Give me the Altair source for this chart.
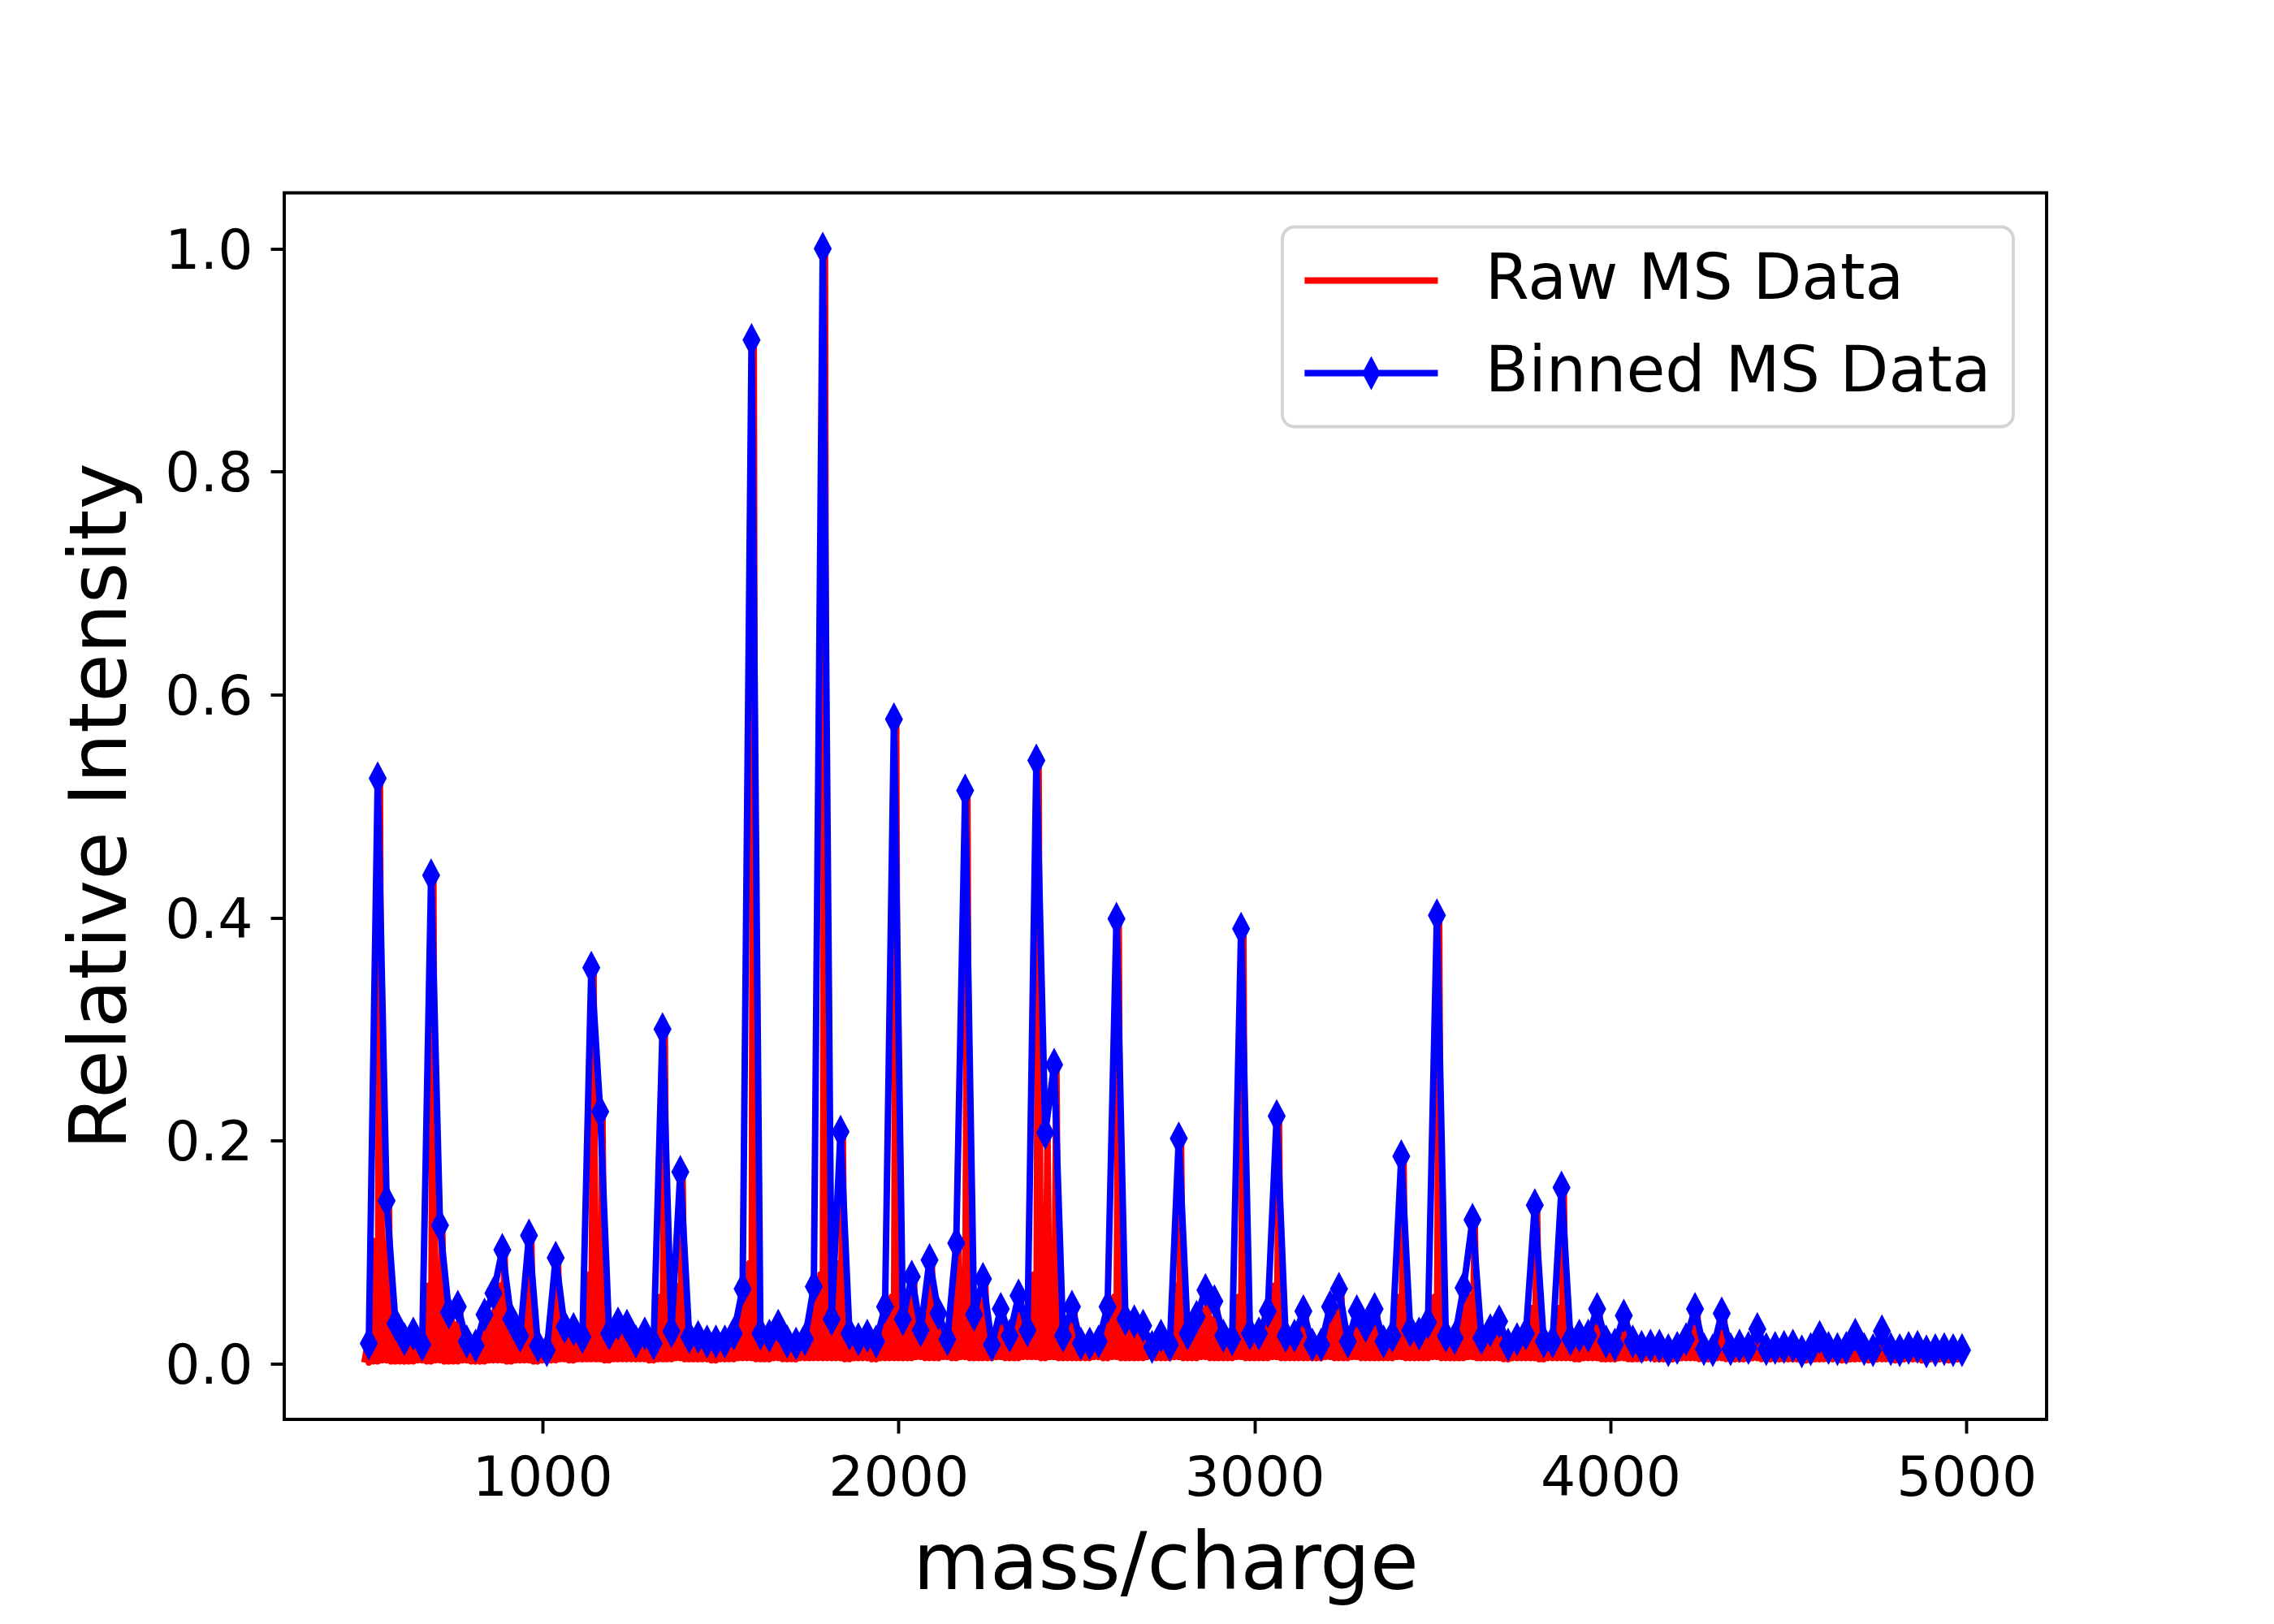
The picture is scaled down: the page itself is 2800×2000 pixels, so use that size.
import altair as alt
import pandas as pd

# ---------------- data ----------------
BIN_START = 500      # first bin edge (m/z)
BIN_WIDTH = 25       # bin width (m/z)

# Binned MS Data: one value per 25 m/z bin, from 500 to 5000
binned_intensity = [
    0.018, 0.525, 0.146, 0.036, 0.022, 0.027, 0.017, 0.438, 0.124, 0.046,
    0.051, 0.020, 0.016, 0.044, 0.063, 0.102, 0.040, 0.025, 0.115, 0.016,
    0.012, 0.095, 0.033, 0.031, 0.024, 0.355, 0.226, 0.027, 0.036, 0.034,
    0.020, 0.027, 0.018, 0.300, 0.029, 0.172, 0.024, 0.024, 0.020, 0.020,
    0.020, 0.027, 0.067, 0.918, 0.027, 0.025, 0.034, 0.020, 0.018, 0.022,
    0.069, 1.000, 0.040, 0.208, 0.027, 0.022, 0.025, 0.020, 0.051, 0.578,
    0.040, 0.078, 0.030, 0.093, 0.045, 0.022, 0.108, 0.514, 0.044, 0.076,
    0.017, 0.049, 0.025, 0.061, 0.030, 0.541, 0.207, 0.268, 0.025, 0.051,
    0.018, 0.018, 0.020, 0.051, 0.399, 0.040, 0.038, 0.034, 0.015, 0.025,
    0.017, 0.202, 0.027, 0.042, 0.066, 0.056, 0.025, 0.022, 0.390, 0.027,
    0.027, 0.047, 0.222, 0.025, 0.025, 0.047, 0.017, 0.017, 0.051, 0.067,
    0.020, 0.047, 0.034, 0.049, 0.020, 0.025, 0.186, 0.030, 0.027, 0.037,
    0.402, 0.025, 0.023, 0.068, 0.129, 0.023, 0.030, 0.038, 0.017, 0.022,
    0.027, 0.142, 0.020, 0.020, 0.158, 0.022, 0.025, 0.025, 0.049, 0.020,
    0.017, 0.043, 0.020, 0.015, 0.016, 0.016, 0.012, 0.014, 0.022, 0.049,
    0.013, 0.012, 0.045, 0.013, 0.016, 0.014, 0.031, 0.013, 0.014, 0.015,
    0.016, 0.011, 0.013, 0.024, 0.014, 0.013, 0.014, 0.026, 0.013, 0.012,
    0.029, 0.013, 0.012, 0.014, 0.015, 0.011, 0.012, 0.013, 0.012, 0.012,
]

# Raw MS Data, read per bin: baseline level, side spike, main spike
raw_floor = [
    0.001, 0.002, 0.003, 0.002, 0.002, 0.002, 0.003, 0.002, 0.003, 0.002,
    0.002, 0.003, 0.002, 0.002, 0.003, 0.003, 0.002, 0.003, 0.003, 0.002,
    0.003, 0.003, 0.004, 0.003, 0.004, 0.004, 0.004, 0.003, 0.004, 0.004,
    0.004, 0.004, 0.003, 0.004, 0.004, 0.005, 0.004, 0.004, 0.004, 0.003,
    0.004, 0.004, 0.005, 0.005, 0.004, 0.004, 0.005, 0.004, 0.004, 0.005,
    0.005, 0.005, 0.005, 0.005, 0.004, 0.005, 0.005, 0.004, 0.005, 0.005,
    0.005, 0.005, 0.006, 0.005, 0.005, 0.006, 0.005, 0.006, 0.005, 0.005,
    0.005, 0.006, 0.005, 0.005, 0.006, 0.006, 0.005, 0.006, 0.005, 0.005,
    0.005, 0.005, 0.006, 0.005, 0.006, 0.005, 0.005, 0.005, 0.006, 0.005,
    0.005, 0.006, 0.005, 0.005, 0.006, 0.005, 0.005, 0.005, 0.006, 0.005,
    0.005, 0.005, 0.006, 0.005, 0.005, 0.005, 0.005, 0.005, 0.006, 0.005,
    0.005, 0.006, 0.005, 0.005, 0.005, 0.005, 0.006, 0.005, 0.005, 0.005,
    0.006, 0.005, 0.005, 0.005, 0.006, 0.005, 0.005, 0.005, 0.004, 0.005,
    0.005, 0.005, 0.004, 0.005, 0.005, 0.005, 0.004, 0.005, 0.005, 0.004,
    0.004, 0.005, 0.004, 0.004, 0.005, 0.004, 0.004, 0.004, 0.005, 0.005,
    0.004, 0.004, 0.005, 0.004, 0.004, 0.004, 0.005, 0.004, 0.004, 0.004,
    0.004, 0.004, 0.003, 0.004, 0.004, 0.004, 0.003, 0.004, 0.004, 0.003,
    0.004, 0.004, 0.003, 0.004, 0.004, 0.003, 0.004, 0.004, 0.003, 0.004,
]
raw_shoulder = [
    0.012, 0.110, 0.080, 0.025, 0.015, 0.020, 0.012, 0.070, 0.060, 0.030,
    0.035, 0.014, 0.012, 0.030, 0.045, 0.070, 0.028, 0.018, 0.060, 0.012,
    0.009, 0.060, 0.024, 0.022, 0.018, 0.080, 0.120, 0.020, 0.026, 0.025,
    0.015, 0.020, 0.013, 0.060, 0.021, 0.070, 0.018, 0.018, 0.015, 0.015,
    0.015, 0.020, 0.048, 0.090, 0.020, 0.018, 0.025, 0.015, 0.013, 0.016,
    0.050, 0.080, 0.030, 0.090, 0.020, 0.016, 0.018, 0.015, 0.036, 0.060,
    0.030, 0.055, 0.022, 0.065, 0.032, 0.016, 0.075, 0.070, 0.032, 0.055,
    0.012, 0.035, 0.018, 0.045, 0.022, 0.080, 0.100, 0.090, 0.018, 0.036,
    0.013, 0.013, 0.015, 0.036, 0.060, 0.030, 0.028, 0.025, 0.011, 0.018,
    0.012, 0.070, 0.020, 0.030, 0.048, 0.040, 0.018, 0.016, 0.060, 0.020,
    0.020, 0.034, 0.070, 0.018, 0.018, 0.034, 0.012, 0.012, 0.036, 0.048,
    0.014, 0.034, 0.025, 0.035, 0.014, 0.018, 0.060, 0.022, 0.020, 0.027,
    0.060, 0.018, 0.017, 0.048, 0.060, 0.017, 0.022, 0.028, 0.012, 0.016,
    0.020, 0.050, 0.014, 0.014, 0.050, 0.016, 0.018, 0.018, 0.035, 0.014,
    0.012, 0.030, 0.014, 0.011, 0.012, 0.012, 0.009, 0.010, 0.016, 0.030,
    0.009, 0.009, 0.028, 0.009, 0.012, 0.010, 0.022, 0.009, 0.010, 0.011,
    0.012, 0.008, 0.009, 0.017, 0.010, 0.009, 0.010, 0.018, 0.009, 0.009,
    0.020, 0.009, 0.009, 0.010, 0.011, 0.008, 0.009, 0.009, 0.009, 0.009,
]
raw_peak = [
    0.018, 0.525, 0.146, 0.036, 0.022, 0.027, 0.017, 0.438, 0.124, 0.046,
    0.051, 0.020, 0.016, 0.044, 0.063, 0.102, 0.040, 0.025, 0.115, 0.016,
    0.012, 0.095, 0.033, 0.031, 0.024, 0.355, 0.226, 0.027, 0.036, 0.034,
    0.020, 0.027, 0.018, 0.300, 0.029, 0.172, 0.024, 0.024, 0.020, 0.020,
    0.020, 0.027, 0.067, 0.918, 0.027, 0.025, 0.034, 0.020, 0.018, 0.022,
    0.069, 1.000, 0.040, 0.208, 0.027, 0.022, 0.025, 0.020, 0.051, 0.578,
    0.040, 0.078, 0.030, 0.093, 0.045, 0.022, 0.108, 0.514, 0.044, 0.076,
    0.017, 0.049, 0.025, 0.061, 0.030, 0.541, 0.207, 0.268, 0.025, 0.051,
    0.018, 0.018, 0.020, 0.051, 0.399, 0.040, 0.038, 0.034, 0.015, 0.025,
    0.017, 0.202, 0.027, 0.042, 0.066, 0.056, 0.025, 0.022, 0.390, 0.027,
    0.027, 0.047, 0.222, 0.025, 0.025, 0.047, 0.017, 0.017, 0.051, 0.067,
    0.020, 0.047, 0.034, 0.049, 0.020, 0.025, 0.186, 0.030, 0.027, 0.037,
    0.402, 0.025, 0.023, 0.068, 0.129, 0.023, 0.030, 0.038, 0.017, 0.022,
    0.027, 0.142, 0.020, 0.020, 0.158, 0.022, 0.025, 0.025, 0.049, 0.020,
    0.017, 0.043, 0.020, 0.015, 0.016, 0.016, 0.012, 0.014, 0.022, 0.049,
    0.013, 0.012, 0.045, 0.013, 0.016, 0.014, 0.031, 0.013, 0.014, 0.015,
    0.016, 0.011, 0.013, 0.024, 0.014, 0.013, 0.014, 0.026, 0.013, 0.012,
    0.029, 0.013, 0.012, 0.014, 0.015, 0.011, 0.012, 0.013, 0.012, 0.012,
]

x_ticks = [1000, 2000, 3000, 4000, 5000]
y_ticks = [0.0, 0.2, 0.4, 0.6, 0.8, 1.0]
series_names = ["Raw MS Data", "Binned MS Data"]
series_colors = ["#ff0000", "#0000ff"]

# ---------------- tables ----------------
bin_centers = [BIN_START + BIN_WIDTH * (i + 0.5) for i in range(len(binned_intensity))]

# raw spectrum: within each bin it goes baseline -> side spike -> baseline -> main spike
raw_rows = []
for c, lo, sh, pk in zip(bin_centers, raw_floor, raw_shoulder, raw_peak):
    raw_rows.append({"mz": c - BIN_WIDTH / 2, "intensity": lo})
    raw_rows.append({"mz": c - BIN_WIDTH / 4, "intensity": sh})
    raw_rows.append({"mz": c, "intensity": lo})
    raw_rows.append({"mz": c + BIN_WIDTH / 4, "intensity": pk})
raw_df = pd.DataFrame(raw_rows)
raw_df["series"] = series_names[0]

binned_df = pd.DataFrame({"mz": bin_centers, "intensity": binned_intensity})
binned_df["series"] = series_names[1]

# ---------------- styling ----------------
FONT = "DejaVu Sans"
LINE_W = 8
# legend symbols: a line, and a line with a thin diamond on it.
# In the plot only the (filled) diamond part of the second path shows.
LEG_LINE = "M-5.47,0L5.47,0"
LEG_LINE_DIAMOND = "M-5.47,0L5.47,0M0,-0.83L0.44,0L0,0.83L-0.44,0Z"

legend = alt.Legend(
    title=None,
    orient="none",
    legendX=1229,
    legendY=42,
    direction="vertical",
    padding=27,
    rowPadding=35,
    fillColor="rgba(255,255,255,0.8)",
    strokeColor="#d4d4d4",
    cornerRadius=15,
    labelFont=FONT,
    labelFontSize=77.8,
    labelColor="black",
    labelOffset=101.5,
    labelLimit=0,
    symbolSize=900,
    symbolStrokeWidth=LINE_W,
    symbolOffset=43.5,
    symbolOpacity=1,
)

x_enc = alt.X(
    "mz:Q",
    scale=alt.Scale(domain=[275, 5225], nice=False, zero=False),
    axis=alt.Axis(
        values=x_ticks, format="d", title="mass/charge",
        labelFlush=False, labelOverlap=False, labelBound=False,
        labelPadding=22, titleX=1085, titleY=208, titleAlign="center",
        titleBaseline="alphabetic",
    ),
)
y_enc = alt.Y(
    "intensity:Q",
    scale=alt.Scale(domain=[-0.05, 1.05], nice=False, zero=False),
    axis=alt.Axis(
        values=y_ticks, format=".1f", title="Relative Intensity",
        labelFlush=False, labelOverlap=False, labelBound=False,
        labelPadding=22, labelOffset=4,
        titleX=-196, titleY=755, titleAngle=270, titleAlign="center",
        titleBaseline="alphabetic",
    ),
)
color_enc = alt.Color(
    "series:N",
    scale=alt.Scale(domain=series_names, range=series_colors),
    legend=legend,
)
shape_enc = alt.Shape(
    "series:N",
    scale=alt.Scale(domain=series_names, range=[LEG_LINE, LEG_LINE_DIAMOND]),
    legend=legend,
)

raw_line = alt.Chart(raw_df).mark_line(
    strokeWidth=LINE_W, strokeJoin="round", clip=True
).encode(x=x_enc, y=y_enc, color=color_enc)

binned_line = alt.Chart(binned_df).mark_line(
    strokeWidth=LINE_W, strokeJoin="round", clip=True
).encode(x=x_enc, y=y_enc, color=color_enc)

binned_points = alt.Chart(binned_df).mark_point(
    filled=True, size=2560, opacity=1, strokeWidth=0, clip=True
).encode(x=x_enc, y=y_enc, color=color_enc, shape=shape_enc)

chart = (
    alt.layer(raw_line, binned_line, binned_points)
    .properties(
        width=2170,
        height=1510.5,
        autosize=alt.AutoSizeParams(type="none"),
        padding={"left": 342, "top": 229.5, "right": 272, "bottom": 244},
        background="white",
    )
    .configure(font=FONT)
    .configure_view(stroke="black", strokeWidth=3.9)
    .configure_legend(strokeWidth=3.9)
    .configure_axis(
        grid=False,
        domain=False,
        labelFont=FONT,
        labelFontSize=68,
        labelColor="black",
        tickColor="black",
        tickWidth=3.9,
        tickSize=17,
        titleFont=FONT,
        titleFontSize=97.2,
        titleFontWeight="normal",
        titleColor="black",
    )
)

chart.save("out.html", embed_options={"renderer": "svg", "actions": False})
